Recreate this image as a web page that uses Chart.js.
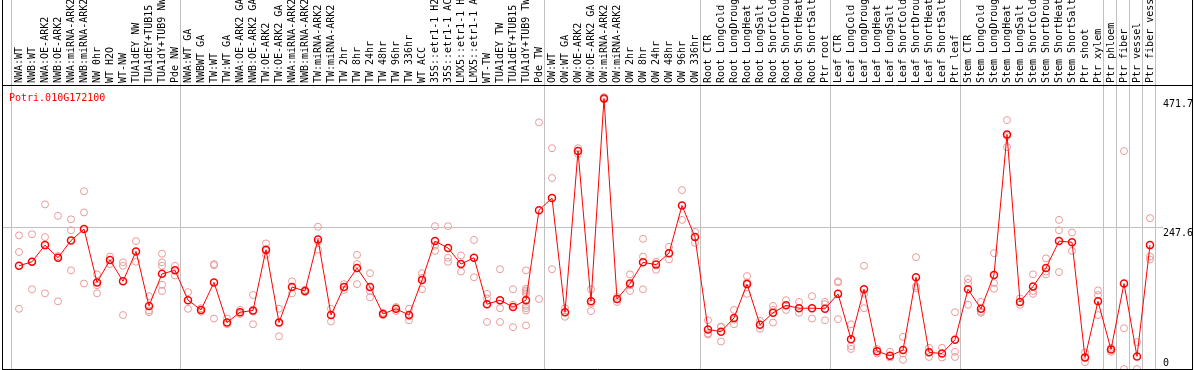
<!DOCTYPE html>
<html>
<head>
<meta charset="utf-8">
<script src="https://cdn.jsdelivr.net/npm/chart.js@4.4.1/dist/chart.umd.min.js"></script>
<style>
  html, body { margin: 0; padding: 0; background: #fff; }
  #wrap { width: 1194px; height: 370px; }
</style>
</head>
<body>
<div id="wrap"><canvas id="grafico" width="1194" height="370"></canvas></div>
<script>
const gen = "Potri.010G172100";

const categorias = [
  "NWA:WT", "NWB:WT", "NWA:OE-ARK2", "NWB:OE-ARK2", "NWA:miRNA-ARK2", "NWB:miRNA-ARK2",
  "NW 0hr", "WT H2O", "WT-NW", "TUA1dEY NW", "TUA1dEY+TUB15 NW", "TUA1dY+TUB9 NW", "Pde NW",
  "NWA:WT GA", "NWBWT GA", "TW:WT", "TW:WT GA", "NWA:OE-ARK2 GA", "NWB:OE-ARK2 GA",
  "TW:OE-ARK2", "TW:OE-ARK2 GA", "NWA:miRNA-ARK2", "NWB:miRNA-ARK2", "TW:miRNA-ARK2", "TW:miRNA-ARK2",
  "TW 2hr", "TW 8hr", "TW 24hr", "TW 48hr", "TW 96hr", "TW 336hr", "WT ACC",
  "35S::etr1-1 H2O", "35S::etr1-1 ACC", "LMX5::etr1-1 H2O", "LMX5::etr1-1 ACC",
  "WT-TW", "TUA1dEY TW", "TUA1dEY+TUB15 TW", "TUA1dY+TUB9 TW", "Pde TW",
  "OW:WT", "OW:WT GA", "OW:OE-ARK2", "OW:OE-ARK2 GA", "OW:miRNA-ARK2", "OW:miRNA-ARK2",
  "OW 2hr", "OW 8hr", "OW 24hr", "OW 48hr", "OW 96hr", "OW 336hr",
  "Root CTR", "Root LongCold", "Root LongDrought", "Root LongHeat", "Root LongSalt",
  "Root ShortCold", "Root ShortDrought", "Root ShortHeat", "Root ShortSalt", "Ptr root",
  "Leaf CTR", "Leaf LongCold", "Leaf LongDrought", "Leaf LongHeat", "Leaf LongSalt",
  "Leaf ShortCold", "Leaf ShortDrought", "Leaf ShortHeat", "Leaf ShortSalt", "Ptr leaf",
  "Stem CTR", "Stem LongCold", "Stem LongDrought", "Stem LongHeat", "Stem LongSalt",
  "Stem ShortCold", "Stem ShortDrought", "Stem ShortHeat", "Stem ShortSalt",
  "Ptr shoot", "Ptr xylem", "Ptr phloem", "Ptr fiber", "Ptr vessel", "Ptr fiber vessel"
];

// media de cada muestra
const medias = [
  180, 187, 216, 194, 224, 244, 151, 190, 153, 205,
  110, 166, 172, 120, 103, 151, 81, 99, 102, 208,
  81, 143, 136, 226, 94, 143, 176, 143, 96, 105,
  94, 155, 223, 211, 183, 194, 113, 120, 108, 120,
  277, 298, 99, 380, 118, 471.7, 122, 149, 186, 182,
  202, 285, 230, 69, 65, 89, 148, 77, 98, 111,
  106, 106, 105, 131, 52, 139, 31, 23, 33, 160,
  29, 27, 51, 139, 105, 164, 409, 117, 144, 176,
  223, 221, 20, 118, 34, 149, 22, 216
];

// replicas de cada muestra
const replicas = [
  [233, 204, 105], [235, 139, 187], [287, 230, 132], [267, 118, 197], [261, 242, 172],
  [310, 273, 149], [165, 146, 132], [196, 183], [186, 180, 94], [223, 187],
  [127, 102, 99], [201, 186, 180, 147, 136], [180, 163], [134, 105], [106, 100],
  [183, 181, 88], [88, 78], [103, 96], [129, 78, 100], [219, 199, 206],
  [105, 57, 81], [153, 132], [138, 134], [248, 208, 222], [105, 83],
  [148, 138], [199, 183, 148], [167, 136, 125], [98, 94], [108, 101],
  [105, 85, 92], [167, 139, 159], [249, 215, 206], [249, 194, 187], [198, 170],
  [225, 160], [131, 123, 82], [174, 106, 82], [139, 112, 73],
  [172, 140, 137, 134, 131, 110, 106, 102, 76],
  [430, 122], [385, 333, 174], [106, 91], [385, 375], [139, 101, 114],
  [474, 470], [117, 126], [165, 136, 146], [227, 196, 139], [187, 173],
  [213, 191], [312, 260], [239, 220], [85, 62, 60], [73, 48, 74],
  [103, 78, 86], [162, 131, 151], [84, 70], [103, 81, 110], [120, 103],
  [117, 98], [127, 88], [117, 85, 113], [153, 151, 87], [78, 40, 35],
  [180, 106, 131], [35, 27], [30, 20], [56, 16, 27], [195, 144, 141],
  [37, 21], [37, 20], [99, 30, 21], [157, 150, 112], [117, 98, 100],
  [202, 140, 150], [434, 387, 406], [123, 112], [165, 131, 136], [193, 165, 170],
  [260, 242, 169], [238, 206], [29, 12, 20], [137, 129, 94], [37, 30],
  [380, 71, 0], [47, 0], [263, 196, 191]
];

// ultima muestra de cada grupo (-1 = borde izquierdo)
const finGrupo = [-1, 12, 40, 52, 62, 72, 83, 84, 85, 86, 87];

const ticksY = [0, 247.6, 471.7];
const maxY = 495.2;

const fuente = { family: "DejaVu Sans Mono", size: 10 };

const puntosReplica = [];
replicas.forEach((lista, i) => {
  lista.forEach(v => puntosReplica.push({ x: i, y: v }));
});
const puntosMedia = medias.map((v, i) => ({ x: i, y: v }));

const marco = {
  id: "marco",
  beforeDatasetsDraw(chart) {
    const { ctx, scales: { x } } = chart;
    ctx.save();
    ctx.strokeStyle = "#c0c0c0";
    ctx.lineWidth = 1;
    finGrupo.forEach(i => {
      const px = Math.round(x.getPixelForValue(i)) + 5.5;
      ctx.beginPath();
      ctx.moveTo(px, 0);
      ctx.lineTo(px, 369);
      ctx.stroke();
    });
    ctx.restore();
  },
  afterDraw(chart) {
    const ctx = chart.ctx;
    ctx.save();
    ctx.strokeStyle = "#000";
    ctx.lineWidth = 1;
    ctx.beginPath();
    ctx.moveTo(2.5, 0); ctx.lineTo(2.5, 370);
    ctx.moveTo(1192.5, 0); ctx.lineTo(1192.5, 370);
    ctx.moveTo(2, 85.5); ctx.lineTo(1193, 85.5);
    ctx.moveTo(2, 369.5); ctx.lineTo(1193, 369.5);
    ctx.stroke();
    ctx.fillStyle = "#ff0000";
    ctx.font = "10px 'DejaVu Sans Mono'";
    ctx.textBaseline = "alphabetic";
    ctx.fillText(gen, 9, 101);
    ctx.restore();
  }
};

new Chart(document.getElementById("grafico"), {
  data: {
    datasets: [
      {
        type: "line",
        data: puntosMedia,
        borderColor: "#ff0000",
        borderWidth: 1,
        pointRadius: 3.5,
        pointBorderWidth: 1.5,
        pointBorderColor: "#ff0000",
        pointBackgroundColor: "rgba(0,0,0,0)",
        tension: 0,
        order: 0
      },
      {
        type: "scatter",
        data: puntosReplica,
        pointRadius: 3.5,
        pointBorderWidth: 1,
        pointBorderColor: "#eb9a9a",
        pointBackgroundColor: "rgba(0,0,0,0)",
        order: 1
      }
    ]
  },
  options: {
    responsive: false,
    animation: false,
    layout: { padding: { left: 2, right: 0, top: 0, bottom: 1 }, autoPadding: false },
    plugins: { legend: { display: false }, tooltip: { enabled: false }, title: { display: false } },
    scales: {
      x: {
        type: "linear",
        position: "top",
        min: -1.3077,
        max: 88,
        grid: { display: false, drawTicks: false },
        border: { display: false },
        afterBuildTicks: s => { s.ticks = categorias.map((c, i) => ({ value: i })); },
        afterFit: s => { s.height = 85; s.paddingLeft = 0; s.paddingRight = 0; },
        ticks: {
          autoSkip: false,
          minRotation: 90,
          maxRotation: 90,
          padding: 2,
          labelOffset: 12,
          color: "#000",
          font: fuente,
          callback: v => categorias[v]
        }
      },
      y: {
        type: "linear",
        position: "right",
        min: 0,
        max: maxY,
        afterBuildTicks: s => { s.ticks = ticksY.map(v => ({ value: v })); },
        afterFit: s => { s.width = 31; s.paddingTop = 0; s.paddingBottom = 0; },
        grid: {
          drawTicks: false,
          color: c => (c.tick && c.tick.value === ticksY[1]) ? "#c0c0c0" : "rgba(0,0,0,0)"
        },
        border: { display: false },
        ticks: {
          autoSkip: false,
          padding: 0,
          color: "#000",
          font: fuente,
          callback: (v, i) => i === 0 ? [String(v), ""] : ["", String(v)]
        }
      }
    }
  },
  plugins: [marco]
});
</script>
</body>
</html>
